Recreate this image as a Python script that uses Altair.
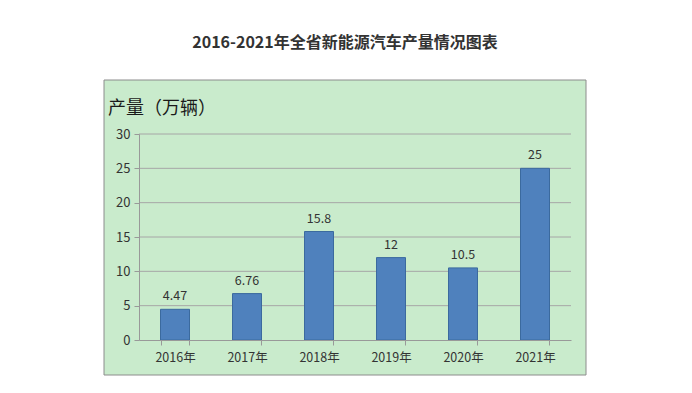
import altair as alt
import pandas as pd

years = ["2016年", "2017年", "2018年", "2019年", "2020年", "2021年"]
values = [4.47, 6.76, 15.8, 12, 10.5, 25]
labels = ["4.47", "6.76", "15.8", "12", "10.5", "25"]
ticks = [5, 10, 15, 20, 25, 30]
axis_values = [0, 5, 10, 15, 20, 25, 30]

df = pd.DataFrame({"year": years, "value": values, "label": labels})
grid_df = pd.DataFrame({"value": ticks})

FONT = "Noto Sans CJK SC"

xaxis = alt.Axis(labelAngle=0, labelFont=FONT, labelFontSize=12.5,
                 labelColor="#333", domainColor="#999", tickColor="#999",
                 tickBand="extent", tickSize=5, labelPadding=6,
                 grid=False, zindex=1)
yaxis = alt.Axis(values=axis_values, labelFont=FONT,
                 labelFontSize=13, labelColor="#333", domainColor="#999",
                 tickColor="#999", tickSize=5, grid=False, zindex=1,
                 labelOverlap=False, labelPadding=4)
yscale = alt.Scale(domain=[0, 30])
xscale = alt.Scale(paddingInner=0.6, paddingOuter=0.3)

bg = alt.Chart(pd.DataFrame({"a": [0]})).mark_rect(
    fill="#C9EBCC", stroke="#8C8C8C", strokeWidth=1
).encode(
    x=alt.value(-35), x2=alt.value(447), y=alt.value(-54), y2=alt.value(241)
)

title = alt.Chart(pd.DataFrame({"t": ["2016-2021年全省新能源汽车产量情况图表"]})).mark_text(
    align="center", baseline="middle", fontSize=16, fontWeight="bold", font=FONT, color="#333"
).encode(x=alt.value(206), y=alt.value(-91), text="t:N")

ylabel = alt.Chart(pd.DataFrame({"t": ["产量（万辆）"]})).mark_text(
    align="left", baseline="middle", fontSize=18, font=FONT, color="#1a1a1a"
).encode(x=alt.value(-31), y=alt.value(-25), text="t:N")

grid = alt.Chart(grid_df).mark_rule(color="#A6A6A6", strokeWidth=1).encode(
    y=alt.Y("value:Q", scale=yscale, axis=yaxis, title=None),
    x=alt.value(0), x2=alt.value(432)
)

bars = alt.Chart(df).mark_bar(
    size=29, color="#4F81BD", stroke="#3B6A9E", strokeWidth=1
).encode(
    x=alt.X("year:N", sort=years, title=None, scale=xscale, axis=xaxis),
    y=alt.Y("value:Q", scale=yscale, axis=yaxis, title=None),
)

text = alt.Chart(df).mark_text(
    dy=-13, fontSize=12.5, font=FONT, color="#333"
).encode(
    x=alt.X("year:N", sort=years, title=None, scale=xscale, axis=xaxis),
    y=alt.Y("value:Q", scale=yscale, axis=yaxis, title=None),
    text="label:N",
)

chart = alt.layer(bg, title, ylabel, grid, bars, text).properties(
    width=432, height=206,
    autosize=alt.AutoSizeParams(type="none"),
    padding={"left": 131, "top": 126, "right": 100, "bottom": 45},
).configure_view(stroke=None)

chart.save("out.html", embed_options={"renderer": "svg", "actions": False})
